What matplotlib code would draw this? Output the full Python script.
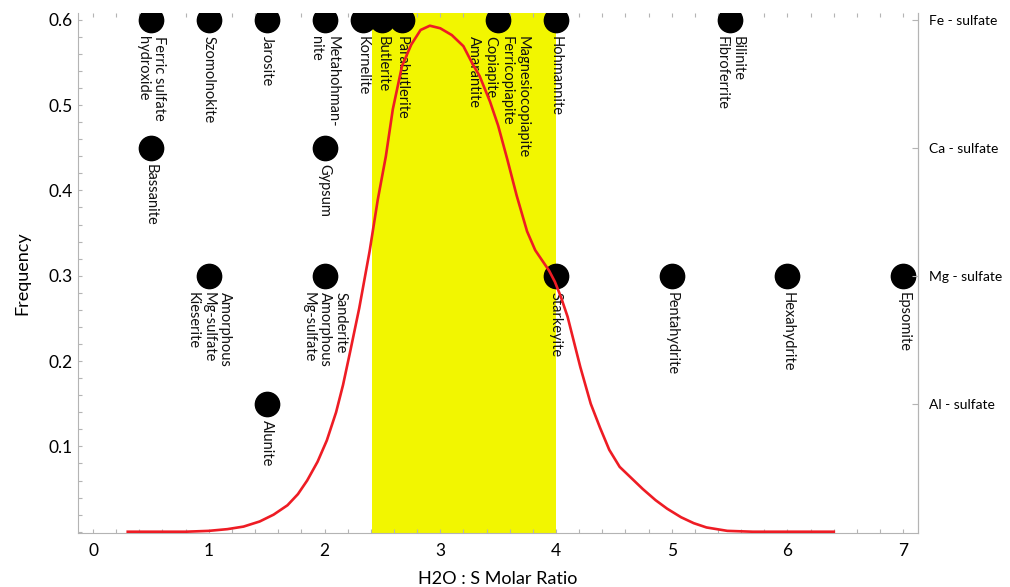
"""
Sulfate minerals vs H2O : S molar ratio, with the frequency curve
and the highlighted 2.4 - 4 window.
"""
import matplotlib
matplotlib.use("Agg")
import matplotlib.pyplot as plt
from matplotlib.ticker import MultipleLocator

plt.rcParams['font.family'] = ['Lato', 'DejaVu Sans']

# frequency curve
curve_x = [0.30, 0.80, 1.00, 1.16, 1.30, 1.44, 1.56, 1.68, 1.77, 1.85,
           1.94, 2.02, 2.10, 2.16, 2.22, 2.30, 2.39, 2.46, 2.53, 2.59,
           2.67, 2.75, 2.83, 2.91, 3.00, 3.10, 3.20, 3.28, 3.34, 3.43,
           3.50, 3.58, 3.66, 3.75, 3.82, 3.88, 3.94, 3.99, 4.04, 4.10,
           4.21, 4.30, 4.38, 4.46, 4.55, 4.65, 4.75, 4.86, 4.96, 5.08,
           5.19, 5.30, 5.48, 5.70, 6.40]
curve_y = [0.000, 0.000, 0.001, 0.003, 0.006, 0.012, 0.020, 0.031, 0.044, 0.060,
           0.082, 0.107, 0.140, 0.172, 0.210, 0.262, 0.329, 0.389, 0.440, 0.495,
           0.546, 0.571, 0.588, 0.593, 0.590, 0.582, 0.569, 0.548, 0.534, 0.504,
           0.476, 0.436, 0.394, 0.352, 0.330, 0.318, 0.306, 0.293, 0.276, 0.252,
           0.193, 0.150, 0.122, 0.096, 0.076, 0.063, 0.050, 0.037, 0.027, 0.017,
           0.010, 0.005, 0.001, 0.000, 0.000]

# highlighted window
band = (2.41, 4.0)

# mineral groups (right axis) and their level on the frequency scale
groups = ["Fe - sulfate", "Ca - sulfate", "Mg - sulfate", "Al - sulfate"]
group_level = [0.6, 0.45, 0.3, 0.15]

fe_x = [0.5, 1.0, 1.5, 2.0, 2.33, 2.5, 2.67, 3.5, 4.0, 5.5]
fe_names = ["Ferric sulfate\nhydroxide", "Szomolnokite", "Jarosite",
            "Metahohman-\nnite", "Kornelite", "Butlerite", "Parabutlerite",
            "Magnesiocopiapite\nFerricopiapite\nCopiapite\nAmarantite",
            "Hohmannite", "Bilinite\nFibroferrite"]
ca_x = [0.5, 2.0]
ca_names = ["Bassanite", "Gypsum"]
mg_x = [1.0, 2.0, 4.0, 5.0, 6.0, 7.0]
mg_names = ["Amorphous\nMg-sulfate\nKieserite", "Sanderite\nAmorphous\nMg-sulfate",
            "Starkeyite", "Pentahydrite", "Hexahydrite", "Epsomite"]
al_x = [1.5]
al_names = ["Alunite"]

grey = '#b4b4b4'

fig = plt.figure(figsize=(10.10, 5.87), dpi=100)
ax = fig.add_axes([0.0772, 0.092, 0.832, 0.886])

ax.axvspan(band[0], band[1], color='#f2f600', lw=0, zorder=0)

minerals = [(fe_x, fe_names), (ca_x, ca_names), (mg_x, mg_names), (al_x, al_names)]
for (xs, names), level in zip(minerals, group_level):
    ax.plot(xs, [level] * len(xs), 'o', color='black', ms=17.5, zorder=2)
    for x, name in zip(xs, names):
        ax.annotate(name, (x, level), xytext=(0, -12), textcoords='offset points',
                    rotation=-90, ha='center', va='top', multialignment='left',
                    fontsize=10.5, color='#111111', zorder=3)

ax.plot(curve_x, curve_y, color='#ee1c24', lw=1.9, zorder=4)

ax.set_xlim(-0.13, 7.13)
ax.set_ylim(-0.0015, 0.608)

ax.set_xticks(range(8))
ax.xaxis.set_minor_locator(MultipleLocator(0.2))
ax.set_yticks([0.1, 0.2, 0.3, 0.4, 0.5, 0.6])
ax.yaxis.set_minor_locator(MultipleLocator(0.02))
ax.tick_params(which='both', direction='in', color=grey, length=3, width=0.8,
               top=True, labelsize=12.5)
ax.tick_params(axis='x', which='major', pad=7)

for side in ['left', 'bottom', 'right']:
    ax.spines[side].set_color(grey)
ax.spines['top'].set_visible(False)

ax.set_xlabel('H2O : S Molar Ratio', fontsize=13, labelpad=9)
ax.set_ylabel('Frequency', fontsize=13, labelpad=13)

ax2 = ax.twinx()
ax2.set_ylim(ax.get_ylim())
ax2.set_yticks(group_level)
ax2.set_yticklabels(groups)
ax2.tick_params(direction='in', color=grey, length=4, labelsize=10, pad=8)
for side in ['left', 'bottom', 'top']:
    ax2.spines[side].set_visible(False)
ax2.spines['right'].set_color(grey)

fig.savefig('out.png', dpi=100)
